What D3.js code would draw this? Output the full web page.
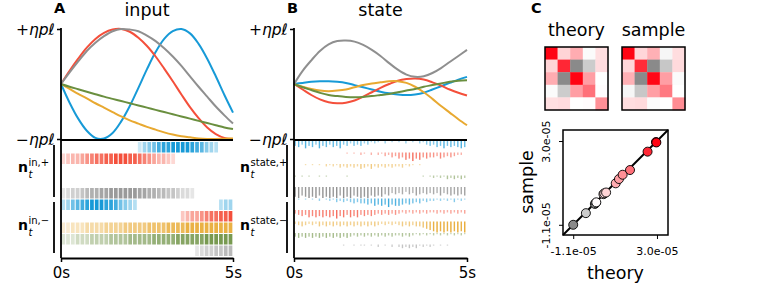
<!DOCTYPE html>
<html>
<head>
<meta charset="utf-8">
<script src="https://cdn.jsdelivr.net/npm/d3@7"></script>
<style>
body { margin: 0; background: #fff; }
text { font-family: "DejaVu Sans", sans-serif; }
</style>
</head>
<body>
<svg id="fig" width="762" height="285"></svg>
<script>
// time samples (s) for the line traces
var times = [0, 0.25, 0.5, 0.75, 1, 1.25, 1.5, 1.75, 2, 2.25, 2.5, 2.75, 3, 3.25, 3.5, 3.75, 4, 4.25, 4.5, 4.75, 5];

// panel A, input signals (units of eta*p*l)
var inputBlue   = [0, -0.34, -0.63, -0.85, -0.98, -0.99, -0.89, -0.68, -0.40, -0.07, 0.27, 0.58, 0.82, 0.96, 1.0, 0.92, 0.73, 0.46, 0.14, -0.20, -0.52];
var inputRed    = [0, 0.24, 0.46, 0.66, 0.82, 0.93, 0.99, 1.0, 0.95, 0.84, 0.69, 0.50, 0.28, 0.05, -0.19, -0.42, -0.62, -0.79, -0.91, -0.98, -1.0];
var inputYellow = [0, -0.09, -0.18, -0.26, -0.35, -0.43, -0.51, -0.59, -0.66, -0.72, -0.78, -0.83, -0.88, -0.92, -0.95, -0.97, -0.99, -1.0, -1.0, -0.995, -0.99];
var inputGreen  = [0, -0.05, -0.095, -0.14, -0.185, -0.23, -0.27, -0.31, -0.35, -0.39, -0.43, -0.47, -0.51, -0.55, -0.59, -0.63, -0.67, -0.71, -0.75, -0.79, -0.82];
var inputGray   = [0, 0.21, 0.41, 0.60, 0.75, 0.87, 0.96, 1.0, 0.99, 0.96, 0.88, 0.78, 0.65, 0.50, 0.33, 0.14, -0.05, -0.23, -0.41, -0.57, -0.72];

// panel B, state traces
var stateBlue   = [0, 0.02, 0.04, 0.05, 0.05, 0.04, 0.02, -0.02, -0.06, -0.10, -0.14, -0.17, -0.19, -0.20, -0.19, -0.16, -0.10, -0.04, 0.02, 0.08, 0.13];
var stateRed    = [0, -0.10, -0.20, -0.28, -0.33, -0.35, -0.34, -0.30, -0.23, -0.15, -0.07, 0.0, 0.06, 0.09, 0.10, 0.08, 0.03, -0.03, -0.10, -0.16, -0.21];
var stateYellow = [0, -0.05, -0.09, -0.12, -0.13, -0.12, -0.10, -0.06, -0.02, 0.01, 0.03, 0.05, 0.05, 0.02, -0.05, -0.15, -0.27, -0.40, -0.52, -0.64, -0.75];
var stateGreen  = [0, -0.06, -0.11, -0.16, -0.20, -0.22, -0.235, -0.24, -0.235, -0.22, -0.20, -0.18, -0.15, -0.12, -0.09, -0.05, -0.02, 0.01, 0.04, 0.06, 0.07];
var stateGray   = [0, 0.24, 0.43, 0.60, 0.72, 0.78, 0.79, 0.77, 0.71, 0.62, 0.51, 0.38, 0.26, 0.17, 0.13, 0.14, 0.20, 0.29, 0.40, 0.51, 0.62];

var colors = ["#179ad7", "#f44f3b", "#e8a931", "#6a8f3f", "#8f8f8f"];

// spike rasters, intensity 0-9 per time bin (36 bins over 5 s), rows blue, red, yellow, green, gray
var rasterInPos = [
  "000000 000000 000013 457889 999876 432000",
  "123345 677889 998876 543321 000000 000000",
  "000000 000000 000000 000000 000000 000000",
  "000000 000000 000000 000000 000000 000000",
  "123345 667788 888877 665544 322100 000000"
];
var rasterInNeg = [
  "235678 999887 543200 000000 000000 000233",
  "000000 000000 000000 000000 023445 677889",
  "112223 333444 455555 666677 778888 888888",
  "111222 333344 445555 566666 777777 888888",
  "000000 000000 000000 000000 000012 334455"
];
// state rasters, 50 bins over 5 s
var rasterStatePos = [
  "4536453645 3546342434 2312102010 1020102134 3546454565",
  "0000000000 0000010102 1020213243 5465756454 4354343220",
  "0001010102 1213232324 3242323232 2312101000 0000000000",
  "1010100101 0000010000 0000000000 0000000101 2121323232",
  "8978989798 9897989789 8978786756 5646576565 6575676767"
];
var rasterStateNeg = [
  "0101010201 2132323434 4546565756 6545434232 2121213121",
  "3454656565 6575646564 5454343434 3232323232 2323232323",
  "2343232434 3434343434 3434323232 3434344567 8989898989",
  "3434343434 3434343232 3232323232 2323212121 2121212121",
  "0000000000 0000100101 1010201020 2323231212 1010100000"
];

// panel C, covariance (x 1e-05)
var covTheory = [
  [2.95, 0.51, 0.98, -0.04, 0.38],
  [0.51, 2.54, -1.10, -0.48, 0.42],
  [0.98, -1.10, 2.97, 1.14, 0.00],
  [-0.04, -0.48, 1.14, 1.68, 0.03],
  [0.38, 0.42, 0.00, 0.03, 1.32]
];
var covSample = [
  [2.95, 0.48, 0.93, -0.08, 0.40],
  [0.48, 2.48, -1.10, -0.53, 0.44],
  [0.93, -1.10, 2.93, 1.14, -0.04],
  [-0.08, -0.53, 1.14, 1.58, 0.00],
  [0.40, 0.44, -0.04, 0.00, 1.35]
];
var covTicks = [-1.1, 3.0];
var covTickLabels = ["-1.1e-05", "3.0e-05"];

var svg = d3.select("#fig");

function bins(s) { return s.replace(/ /g, "").split("").map(Number); }

function drawPanel(p) {
  var x = d3.scaleLinear().domain([0, 5]).range([p.x0, p.x1]);
  var y = d3.scaleLinear().domain([-1, 1]).range([139, 29]);
  var g = svg.append("g");

  g.append("text").attr("x", p.x0 - 7).attr("y", 13).attr("font-weight", "bold")
    .attr("font-size", 14.5).text(p.letter);
  g.append("text").attr("x", (p.x0 + p.x1) / 2).attr("y", 16).attr("text-anchor", "middle")
    .attr("font-size", 17.5).text(p.title);

  // traces
  var line = d3.line().x(function(d, i) { return x(times[i]); }).y(function(d) { return y(d); })
    .curve(d3.curveCatmullRom);
  p.lines.forEach(function(s, k) {
    g.append("path").attr("d", line(s)).attr("fill", "none")
      .attr("stroke", colors[k]).attr("stroke-width", 2);
  });

  // rasters
  var rows = p.pos.concat(p.neg);
  rows.forEach(function(r, k) {
    var v = bins(r), n = v.length, top = 142 + k * 11.5;
    var bw = x(5 / n) - x(0);
    v.forEach(function(d, i) {
      if (d === 0) return;
      if (p.state) {
        g.append("rect").attr("x", x(i * 5 / n) + 0.5).attr("y", top - 1)
          .attr("width", 1.4).attr("height", d / 9 * 11)
          .attr("fill", colors[k % 5]).attr("opacity", 0.3 + 0.075 * d);
      } else {
        g.append("rect").attr("x", x(i * 5 / n) + 0.4).attr("y", top)
          .attr("width", bw * 0.78).attr("height", 10.5)
          .attr("fill", colors[k % 5]).attr("opacity", 0.12 + 0.098 * d);
      }
    });
  });

  // axes
  var ya = g.append("g").attr("transform", "translate(" + p.x0 + ",0)")
    .call(d3.axisLeft(y).tickValues([1, -1]).tickSize(4).tickSizeOuter(0).tickFormat(""));
  ya.select(".domain").remove();
  ya.selectAll(".tick line").attr("stroke-width", 1.5);
  ya.selectAll(".tick").each(function(d) {
    var t = d3.select(this).append("text").attr("x", -6).attr("dy", "0.35em")
      .attr("text-anchor", "end").attr("font-size", 15.5).attr("fill", "#000");
    t.append("tspan").text(d > 0 ? "+" : "\u2212");
    t.append("tspan").attr("font-style", "italic").text("\u03b7p\u2113");
  });

  var xa = g.append("g").attr("transform", "translate(0,258)")
    .call(d3.axisBottom(x).tickValues([0, 5]).tickSize(4).tickSizeOuter(0)
      .tickFormat(function(d) { return d + "s"; }));
  xa.select(".domain").attr("stroke-width", 1.8);
  xa.selectAll(".tick line").attr("stroke-width", 1.5);
  xa.selectAll(".tick text").attr("font-size", 15).attr("font-family", "DejaVu Sans").attr("dy", "0.85em");

  g.append("line").attr("x1", p.x0).attr("x2", p.x0).attr("y1", 28).attr("y2", 258)
    .attr("stroke", "#000").attr("stroke-width", 1.8);
  g.append("line").attr("x1", p.x0).attr("x2", p.x1).attr("y1", 140).attr("y2", 140)
    .attr("stroke", "#000").attr("stroke-width", 1.8);

  // group brackets and labels
  [[145, 197, "+", 172], [202, 253, "\u2212", 230]].forEach(function(b) {
    g.append("line").attr("x1", p.x0 - 7).attr("x2", p.x0 - 7).attr("y1", b[0]).attr("y2", b[1])
      .attr("stroke", "#000").attr("stroke-width", 1.8);
    var lx = p.x0 - 11 - p.labelW;
    g.append("text").attr("x", lx).attr("y", b[3]).attr("font-family", "DejaVu Serif")
      .attr("font-weight", "bold").attr("font-size", 14).text("n");
    g.append("text").attr("x", lx + 10.5).attr("y", b[3] - 6.5).attr("font-family", "DejaVu Serif")
      .attr("font-size", 10).text(p.label + "," + b[2]);
    g.append("text").attr("x", lx + 10.5).attr("y", b[3] + 5.5).attr("font-family", "DejaVu Serif")
      .attr("font-style", "italic").attr("font-size", 10).text("t");
  });
}

drawPanel({x0: 61, x1: 233, letter: "A", title: "input", label: "in", labelW: 32,
  lines: [inputBlue, inputRed, inputYellow, inputGreen, inputGray], pos: rasterInPos, neg: rasterInNeg});
drawPanel({x0: 294, x1: 467, letter: "B", title: "state", label: "state", labelW: 43, state: true,
  lines: [stateBlue, stateRed, stateYellow, stateGreen, stateGray], pos: rasterStatePos, neg: rasterStateNeg});

// panel C
var cmap = d3.scaleLinear().domain([-1.1, 0, 3.0]).range(["#8a8a8a", "#ffffff", "#ff0010"]).clamp(true);
svg.append("text").attr("x", 531).attr("y", 13).attr("font-weight", "bold").attr("font-size", 14.5).text("C");

[[545, "theory", covTheory], [622, "sample", covSample]].forEach(function(m) {
  var c = d3.scaleBand().domain(d3.range(5)).range([m[0], m[0] + 63]);
  var r = d3.scaleBand().domain(d3.range(5)).range([47, 110]);
  svg.append("text").attr("x", m[0] + 31.5).attr("y", 36).attr("text-anchor", "middle")
    .attr("font-size", 17.5).text(m[1]);
  m[2].forEach(function(row, i) {
    row.forEach(function(v, j) {
      svg.append("rect").attr("x", c(j)).attr("y", r(i)).attr("width", c.bandwidth() + 0.3)
        .attr("height", r.bandwidth() + 0.3).attr("fill", cmap(v));
    });
  });
  svg.append("rect").attr("x", m[0]).attr("y", 47).attr("width", 63).attr("height", 63)
    .attr("fill", "none").attr("stroke", "#000").attr("stroke-width", 1.5);
});

var sx = d3.scaleLinear().domain([-1.6, 3.54]).range([563, 668]);
var sy = d3.scaleLinear().domain([-1.6, 3.54]).range([235, 130]);
var sc = svg.append("g");
sc.append("line").attr("x1", sx(-1.6)).attr("y1", sy(-1.6)).attr("x2", sx(3.54)).attr("y2", sy(3.54))
  .attr("stroke", "#000").attr("stroke-width", 2);
var pairs = [];
for (var i = 0; i < 5; i++) for (var j = i; j < 5; j++) pairs.push([covTheory[i][j], covSample[i][j]]);
pairs.sort(function(a, b) { return a[0] - b[0]; });
sc.selectAll("circle").data(pairs).enter().append("circle")
  .attr("cx", function(d) { return sx(d[0]); }).attr("cy", function(d) { return sy(d[1]); })
  .attr("r", 4.5).attr("fill", function(d) { return cmap(d[0]); })
  .attr("stroke", "#000").attr("stroke-width", 0.9);
sc.append("rect").attr("x", 563).attr("y", 130).attr("width", 105).attr("height", 105)
  .attr("fill", "none").attr("stroke", "#000").attr("stroke-width", 1.5);

var sxa = sc.append("g").attr("transform", "translate(0,235)")
  .call(d3.axisBottom(sx).tickValues(covTicks).tickSize(4).tickSizeOuter(0)
    .tickFormat(function(d, i) { return covTickLabels[i]; }));
sxa.select(".domain").remove();
sxa.selectAll(".tick text").attr("font-size", 11).attr("font-family", "DejaVu Sans").attr("dy", "1.15em");
var sya = sc.append("g").attr("transform", "translate(563,0)")
  .call(d3.axisLeft(sy).tickValues(covTicks).tickSize(4).tickSizeOuter(0)
    .tickFormat(function(d, i) { return covTickLabels[i]; }));
sya.select(".domain").remove();
sya.selectAll(".tick text").attr("font-size", 11).attr("font-family", "DejaVu Sans")
  .attr("text-anchor", "middle").attr("x", 0).attr("dy", 0)
  .attr("transform", "translate(-13,0) rotate(-90)");

sc.append("text").attr("x", 615.5).attr("y", 279).attr("text-anchor", "middle").attr("font-size", 17.5).text("theory");
sc.append("text").attr("transform", "translate(533,182) rotate(-90)").attr("text-anchor", "middle")
  .attr("font-size", 17.5).text("sample");
</script>
</body>
</html>
